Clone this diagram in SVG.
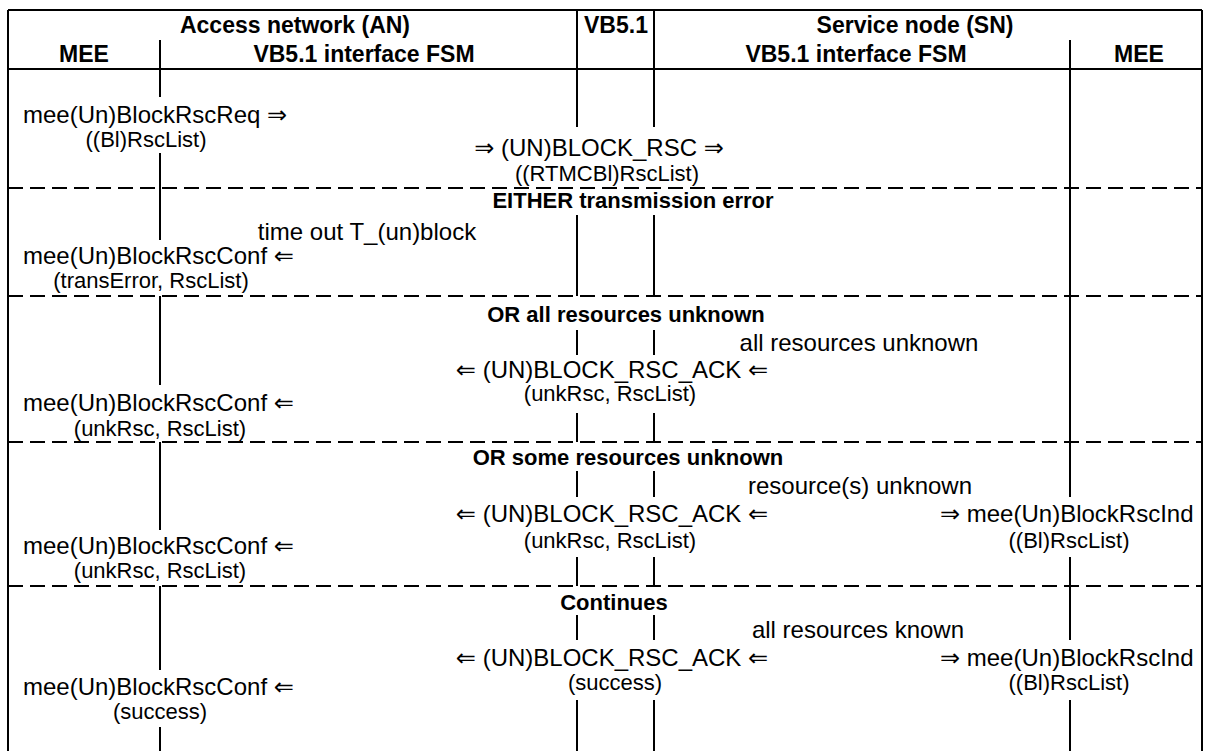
<svg xmlns="http://www.w3.org/2000/svg" width="1210" height="751" viewBox="0 0 1210 751">
<style>
.ln{stroke:#000;stroke-width:2;fill:none}
.dl{stroke:#000;stroke-width:2;fill:none;stroke-dasharray:15 7}
text{font-family:"Liberation Sans",Arial,"DejaVu Sans",sans-serif;fill:#000}
.h{font-weight:bold;font-size:22px}
.h1{font-weight:bold;font-size:23px}
.m{font-size:24px}
.p{font-size:22px}
.c{text-anchor:middle}
</style>
<rect width="1210" height="751" fill="#fff"/>
<g id="frame">
<path class="ln" d="M8,10H1202M8,10V751M1202,10V751M8,69H1202"/>
</g>
<g id="connectors">
<path class="dl" d="M8,188H1202M8,296H1202M8,442H1202M8,586H1202"/>
<path class="ln" d="M160,40V97M160,153V240M160,296V385M160,442V530M160,586V670M160,727V751"/>
<path class="ln" d="M577,10V127M577,215V296M577,330V355M577,413V442M577,471V497M577,557V586M577,615V640M577,700V751"/>
<path class="ln" d="M654,10V127M654,215V296M654,330V355M654,413V442M654,471V497M654,557V586M654,615V640M654,700V751"/>
<path class="ln" d="M1070,40V497M1070,557V640M1070,700V751"/>
</g>
<g id="header">
<text class="h1 c" x="295" y="33">Access network (AN)</text>
<text class="h1 c" x="616" y="33">VB5.1</text>
<text class="h1 c" x="915" y="33">Service node (SN)</text>
<text class="h1 c" x="84" y="62">MEE</text>
<text class="h1 c" x="364" y="62">VB5.1 interface FSM</text>
<text class="h1 c" x="856" y="62">VB5.1 interface FSM</text>
<text class="h1 c" x="1139" y="62">MEE</text>
</g>
<g id="request">
<text class="m" x="23" y="123">mee(Un)BlockRscReq ⇒</text>
<text class="p c" x="146" y="147">((Bl)RscList)</text>
<text class="m c" x="599" y="156">⇒ (UN)BLOCK_RSC ⇒</text>
<text class="p c" x="607" y="181">((RTMCBl)RscList)</text>
</g>
<g id="either">
<text class="h c" x="633" y="208">EITHER transmission error</text>
<text class="m c" x="367" y="240">time out T_(un)block</text>
<text class="m" x="23" y="264">mee(Un)BlockRscConf ⇐</text>
<text class="p c" x="151" y="288">(transError, RscList)</text>
</g>
<g id="or-all">
<text class="h c" x="626" y="322">OR all resources unknown</text>
<text class="m c" x="859" y="351">all resources unknown</text>
<text class="m c" x="612" y="378">⇐ (UN)BLOCK_RSC_ACK ⇐</text>
<text class="p c" x="610" y="401">(unkRsc, RscList)</text>
<text class="m" x="23" y="411">mee(Un)BlockRscConf ⇐</text>
<text class="p c" x="160" y="436">(unkRsc, RscList)</text>
</g>
<g id="or-some">
<text class="h c" x="628" y="465">OR some resources unknown</text>
<text class="m c" x="860" y="494">resource(s) unknown</text>
<text class="m c" x="612" y="522">⇐ (UN)BLOCK_RSC_ACK ⇐</text>
<text class="m" x="940" y="522">⇒ mee(Un)BlockRscInd</text>
<text class="p c" x="610" y="548">(unkRsc, RscList)</text>
<text class="p c" x="1069" y="548">((Bl)RscList)</text>
<text class="m" x="23" y="554">mee(Un)BlockRscConf ⇐</text>
<text class="p c" x="160" y="578">(unkRsc, RscList)</text>
</g>
<g id="continues">
<text class="h c" x="614" y="610">Continues</text>
<text class="m c" x="858" y="638">all resources known</text>
<text class="m c" x="612" y="666">⇐ (UN)BLOCK_RSC_ACK ⇐</text>
<text class="m" x="940" y="666">⇒ mee(Un)BlockRscInd</text>
<text class="p c" x="615" y="690">(success)</text>
<text class="p c" x="1069" y="690">((Bl)RscList)</text>
<text class="m" x="23" y="695">mee(Un)BlockRscConf ⇐</text>
<text class="p c" x="160" y="719">(success)</text>
</g>
</svg>
